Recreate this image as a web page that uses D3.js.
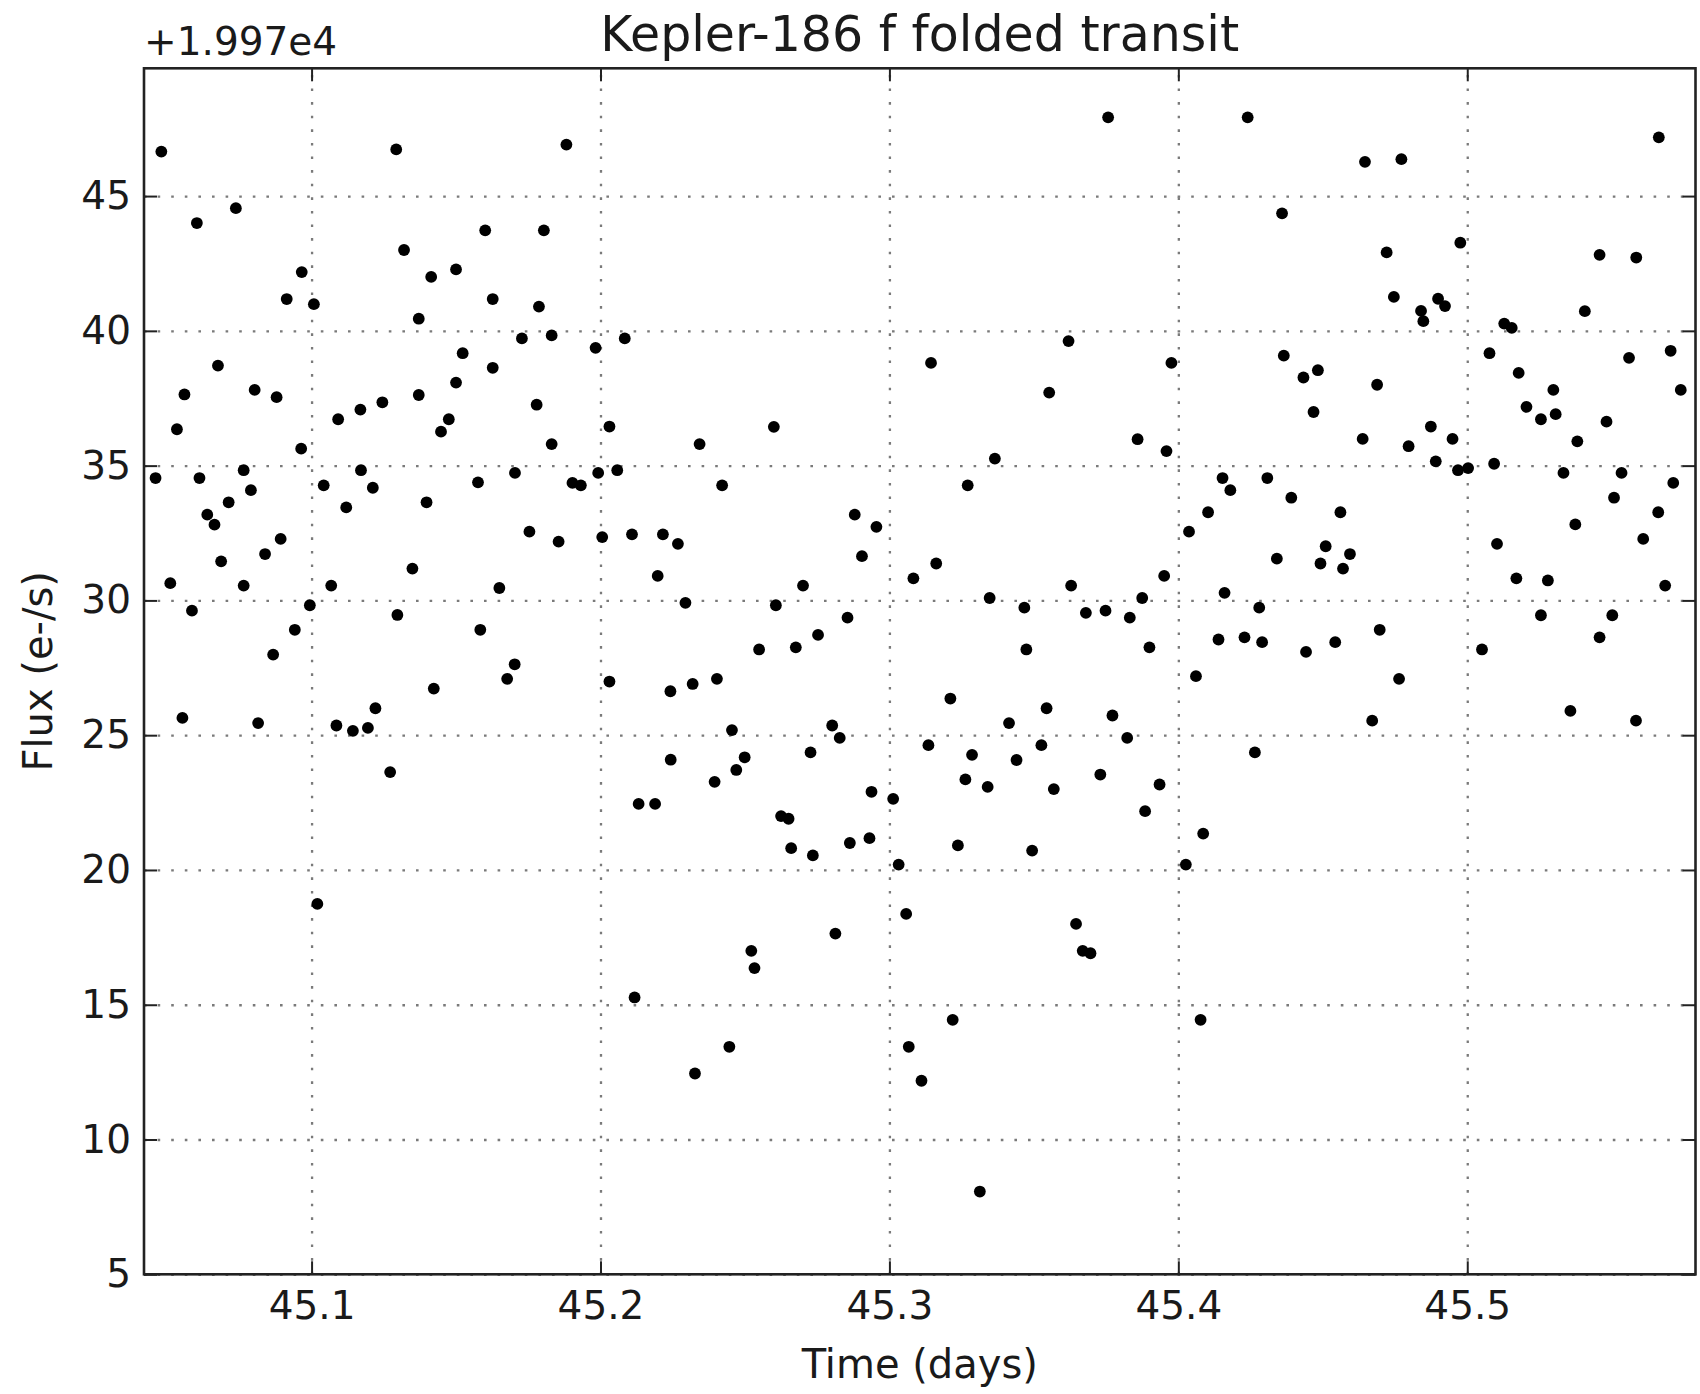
<!DOCTYPE html>
<html>
<head>
<meta charset="utf-8">
<script src="https://cdn.jsdelivr.net/npm/d3@7"></script>
<style>
  body { margin: 0; background: #fff; }
  text { font-family: "DejaVu Sans", sans-serif; fill: #1a1a1a; }
</style>
</head>
<body>
<script>
// folded transit, time in days, flux shown relative to the offset 1.997e4
var fluxOffsetLabel = "+1.997e4";
var xTicks = [45.1, 45.2, 45.3, 45.4, 45.5];
var yTicks = [5, 10, 15, 20, 25, 30, 35, 40, 45];

var time = [
  45.048, 45.1293, 45.1882, 45.0603, 45.0738, 45.0966, 45.0914, 45.1008, 45.132, 45.1414,
  45.150, 45.1371, 45.1601, 45.1804, 45.1627, 45.1787, 45.1831, 45.1728, 45.1983, 45.2084,
  45.1523, 45.1627, 45.0676, 45.056, 45.0803, 45.0879, 45.0534, 45.1092, 45.1169, 45.1245,
  45.1371, 45.150, 45.1475, 45.1448, 45.1779, 45.2031, 45.1831, 45.0964,
  45.046, 45.0612, 45.0765, 45.079, 45.0713, 45.0639, 45.0664, 45.0893, 45.0839, 45.0687,
  45.0511, 45.0765, 45.0586, 45.0994, 45.0942, 45.0867, 45.0553, 45.0815, 45.1042, 45.1171,
  45.112, 45.1212, 45.1068, 45.1398, 45.1349, 45.1297, 45.1086, 45.1143, 45.1195, 45.1221,
  45.1272, 45.1423, 45.1576, 45.1704, 45.165, 45.1584, 45.1703, 45.1677, 45.1754, 45.1855,
  45.1903, 45.1932, 45.1992, 45.2058, 45.2006, 45.2109, 45.2031, 45.2132,
  45.102, 45.2118,
  45.3757, 45.3144, 45.362, 45.3553, 45.26, 45.2343, 45.3365, 45.3859, 45.3959,
  45.424, 45.4646, 45.4772, 45.5663, 45.4359, 45.4721, 45.4976, 45.5458, 45.5585, 45.4746,
  45.4899, 45.4923, 45.484, 45.4848, 45.5407, 45.5128, 45.5154, 45.3976, 45.4365, 45.4433,
  45.4483, 45.4468, 45.4688, 45.5077, 45.5178, 45.5298, 45.5306, 45.5205, 45.5255, 45.556,
  45.5704, 45.5739, 45.5482, 45.5381, 45.4638, 45.4797, 45.4874, 45.4949,
  45.4891, 45.4968, 45.5003, 45.5093, 45.5333, 45.5534, 45.5713, 45.5508, 45.5661, 45.5374,
  45.5609, 45.5103, 45.517, 45.5279, 45.5685, 45.5255, 45.5502, 45.5458, 45.5051, 45.5357,
  45.5584, 45.4153, 45.418, 45.4308, 45.4103, 45.4037, 45.4391, 45.4561, 45.4341, 45.451,
  45.4594, 45.4492, 45.457, 45.3951, 45.416, 45.428, 45.4139, 45.4229, 45.429, 45.4442,
  45.4543, 45.4697, 45.4061, 45.4764, 45.4671, 45.4265, 45.4086, 45.4026,
  45.4077,
  45.2421, 45.3271, 45.2216, 45.2268, 45.2198, 45.288, 45.2955, 45.2905, 45.3083, 45.3162,
  45.2701, 45.2294, 45.2607, 45.2855, 45.2753, 45.2549, 45.2676, 45.2242, 45.2319, 45.2403,
  45.3347, 45.3467, 45.3474, 45.3629, 45.368, 45.3748, 45.3832, 45.3875, 45.39, 45.3211,
  45.3544, 45.3414, 45.3772, 45.3823, 45.3135, 45.3286, 45.344, 45.3526, 45.3263, 45.334,
  45.3569, 45.373, 45.3935, 45.3885, 45.2455, 45.2802, 45.2828, 45.2243, 45.2499, 45.247,
  45.2727, 45.2395, 45.2189, 45.2938, 45.3013, 45.2625, 45.2651, 45.266, 45.2735, 45.2863,
  45.2931, 45.3237, 45.3494, 45.3032,
  45.3058, 45.3646, 45.3669, 45.3696, 45.2813, 45.2522, 45.2533, 45.3219, 45.2446, 45.2327,
  45.3067, 45.3111, 45.3313
];

var flux = [
  46.65, 46.73, 46.91, 44.0, 44.55, 42.18, 41.18, 40.99, 43.0, 42.0,
  42.28, 40.45, 43.73, 43.73, 41.18, 40.90, 39.83, 39.72, 39.37, 39.72,
  39.17, 38.63, 38.71, 37.64, 37.81, 37.54, 36.35, 36.72, 37.08, 37.35,
  37.62, 38.08, 36.72, 36.26, 37.26, 36.45, 35.80, 35.63,
  34.54, 34.54, 34.83, 34.09, 33.64, 33.18, 32.81, 32.28, 31.72, 31.45,
  30.64, 30.55, 29.62, 29.82, 28.91, 27.99, 25.64, 25.45, 34.27, 34.83,
  33.45, 34.18, 30.55, 33.64, 31.18, 29.46, 25.36, 25.16, 25.27, 26.0,
  23.63, 26.73, 34.38, 34.73, 30.46, 28.91, 27.63, 27.09, 32.55, 32.18,
  34.36, 34.27, 34.73, 34.83, 32.35, 32.45, 26.99, 22.45,
  18.74, 15.27,
  47.92, 38.81, 39.62, 37.71, 36.44, 35.80, 35.26, 35.98, 35.54,
  47.92, 46.27, 46.37, 47.18, 44.36, 42.91, 43.27, 42.82, 42.72, 41.26,
  41.19, 40.92, 40.74, 40.36, 40.73, 40.27, 40.11, 38.81, 39.08, 38.27,
  38.54, 36.99, 38.0, 39.17, 38.44, 37.81, 36.91, 37.18, 36.72, 39.0,
  39.26, 37.81, 36.63, 35.90, 35.99, 35.72, 36.45, 35.99,
  35.16, 34.83, 34.91, 35.07, 34.73, 34.73, 34.36, 33.81, 33.27, 32.82,
  32.28, 32.1, 30.82, 30.74, 30.55, 29.45, 29.45, 28.63, 28.18, 25.90,
  25.54, 34.54, 34.09, 34.54, 33.27, 32.55, 33.81, 33.27, 31.55, 32.01,
  31.72, 31.37, 31.18, 30.91, 30.28, 29.73, 28.55, 28.63, 28.45, 28.09,
  28.45, 28.91, 27.19, 27.09, 25.54, 24.36, 21.35, 20.2,
  14.44,
  34.27, 34.27, 32.45, 32.1, 30.91, 33.18, 32.73, 31.64, 30.82, 31.37,
  30.55, 29.91, 29.82, 29.36, 28.72, 28.18, 28.26, 26.63, 26.9, 27.09,
  30.09, 29.73, 28.18, 30.55, 29.54, 29.62, 29.36, 30.09, 28.26, 26.36,
  26.0, 25.45, 25.73, 24.9, 24.63, 24.27, 24.08, 24.63, 23.36, 23.08,
  23.0, 23.54, 23.17, 22.18, 25.19, 25.36, 24.9, 24.09, 24.18, 23.71,
  24.36, 23.27, 22.45, 22.9, 22.64, 22.0, 21.9, 20.81, 20.54, 21.0,
  21.18, 20.91, 20.72, 20.2,
  18.37, 18.0, 17.0, 16.91, 17.64, 17.0, 16.36, 14.44, 13.44, 12.45,
  13.44, 12.18, 8.07
];

var points = time.map(function(t, i) { return { t: t, f: flux[i] }; });

var W = 1700, H = 1394;
// plot box (window.top is read-only, so no "top" name here)
var plotL = 144, plotR = 1695.5, plotT = 68.3, plotB = 1274.3;

var svg = d3.select("body").append("svg").attr("width", W).attr("height", H);

var x = d3.scaleLinear().domain([45.042, 45.579]).range([plotL, plotR]);
var y = d3.scaleLinear().domain([5, 49.74]).range([plotB, plotT]);

// dotted grid
svg.append("g")
      .attr("class", "grid")
      .attr("transform", "translate(0," + plotB + ")")
      .call(d3.axisBottom(x).tickValues(xTicks).tickSize(-(plotB - plotT)).tickFormat(""));
svg.append("g")
      .attr("class", "grid")
      .attr("transform", "translate(" + plotL + ",0)")
      .call(d3.axisLeft(y).tickValues(yTicks).tickSize(-(plotR - plotL)).tickFormat(""));
svg.selectAll(".grid .domain").remove();
svg.selectAll(".grid line")
      .attr("stroke", "#7a7a7a")
      .attr("stroke-width", 2.3)
      .attr("stroke-dasharray", "2.6,11");

// points
svg.selectAll("circle")
      .data(points)
      .enter().append("circle")
            .attr("cx", function(d) { return x(d.t); })
            .attr("cy", function(d) { return y(d.f); })
            .attr("r", 5.9)
            .attr("fill", "#000");

// axes with inward ticks on all four sides
var xb = svg.append("g").attr("transform", "translate(0," + plotB + ")")
      .call(d3.axisBottom(x).tickValues(xTicks).tickSize(-13).tickPadding(17).tickFormat(d3.format(".1f")));
var xt = svg.append("g").attr("transform", "translate(0," + plotT + ")")
      .call(d3.axisTop(x).tickValues(xTicks).tickSize(-13).tickFormat(""));
var yl = svg.append("g").attr("transform", "translate(" + plotL + ",0)")
      .call(d3.axisLeft(y).tickValues(yTicks).tickSize(-13).tickPadding(13).tickFormat(d3.format("d")));
var yr = svg.append("g").attr("transform", "translate(" + plotR + ",0)")
      .call(d3.axisRight(y).tickValues(yTicks).tickSize(-13).tickFormat(""));

[xb, xt, yl, yr].forEach(function(g) {
  g.selectAll(".domain").remove();
  g.selectAll("line").attr("stroke", "#222").attr("stroke-width", 2);
  g.selectAll("text").attr("font-size", 39).attr("fill", "#1a1a1a")
        .style("font-family", "DejaVu Sans, sans-serif");
});

// frame
svg.append("rect")
      .attr("x", plotL).attr("y", plotT)
      .attr("width", plotR - plotL).attr("height", plotB - plotT)
      .attr("fill", "none")
      .attr("stroke", "#222")
      .attr("stroke-width", 2.6);

// texts
svg.append("text").text(fluxOffsetLabel)
      .attr("x", plotL).attr("y", 55)
      .attr("font-size", 39);

svg.append("text").text("Kepler-186 f folded transit")
      .attr("x", (plotL + plotR) / 2).attr("y", 51)
      .attr("text-anchor", "middle")
      .attr("font-size", 49);

svg.append("text").text("Time (days)")
      .attr("x", (plotL + plotR) / 2).attr("y", 1378)
      .attr("text-anchor", "middle")
      .attr("font-size", 40);

svg.append("text").text("Flux (e-/s)")
      .attr("transform", "translate(52," + ((plotT + plotB) / 2) + ") rotate(-90)")
      .attr("text-anchor", "middle")
      .attr("font-size", 40);
</script>
</body>
</html>
